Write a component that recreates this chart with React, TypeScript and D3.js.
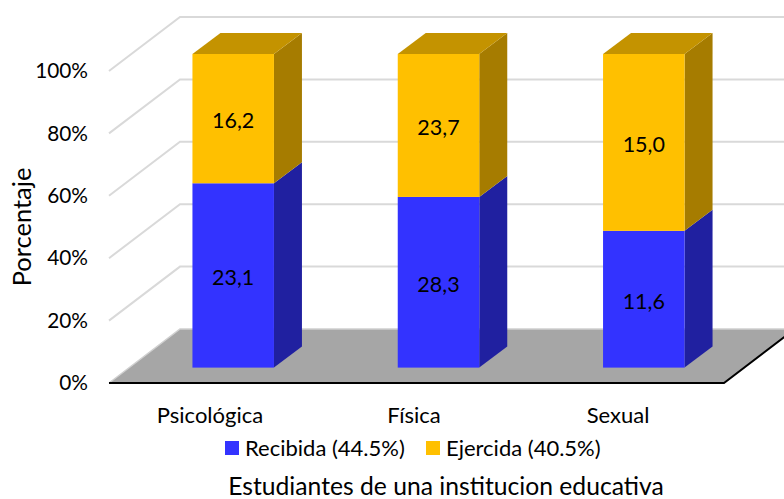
import React from "react";
import * as d3 from "d3";

const categories = ["Psicológica", "Física", "Sexual"];
const recibida = [23.1, 28.3, 11.6];
const ejercida = [16.2, 23.7, 15.0];
const yTicks = [0, 20, 40, 60, 80, 100];
const seriesNames = ["Recibida (44.5%)", "Ejercida (40.5%)"];
const xTitle = "Estudiantes de una institucion educativa";
const yTitle = "Porcentaje";

const W = 784, H = 499;
const FONT = "Lato, 'Noto Sans', sans-serif";
const BLUE = { front: "#3333ff", side: "#2020a0", top: "#2828c8" };
const GOLD = { front: "#ffc000", side: "#a67c00", top: "#c49300" };
const GRID = "#d9d9d9";

// wall/floor projection
const wallY = d3.scaleLinear().domain([0, 100]).range([383, 71]);
const wallDx = 71, wallDy = -54;
const frontLeft = 109, frontRight = 724;
const barY = d3.scaleLinear().domain([0, 100]).range([367.6, 54]);
const barDx = 28, barDy = -21;
const barW = 81.5;
const barCenters = d3.scalePoint().domain(categories).range([233.2, 643.8]);
const labelCenters = d3.scalePoint().domain(categories).range([210, 618]);

function Block({ x, y0, y1, c, showTop }: { x: number; y0: number; y1: number; c: typeof BLUE; showTop: boolean }) {
  const p = (pts: number[][]) => pts.map((q) => q.join(",")).join(" ");
  return (
    <g>
      <polygon points={p([[x + barW, y1], [x + barW + barDx, y1 + barDy], [x + barW + barDx, y0 + barDy], [x + barW, y0]])} fill={c.side} />
      {showTop && <polygon points={p([[x, y1], [x + barDx, y1 + barDy], [x + barW + barDx, y1 + barDy], [x + barW, y1]])} fill={c.top} />}
      <rect x={x} y={y1} width={barW} height={y0 - y1} fill={c.front} />
    </g>
  );
}

export default function App() {
  const bx = (cat: string) => barCenters(cat)! - barW / 2;
  return (
    <svg width={W} height={H} viewBox={`0 0 ${W} ${H}`} style={{ position: "absolute", left: 0, top: 0, background: "#fff" }} fontFamily={FONT} fill="#000">
      {/* floor */}
      <polygon
        points={[[frontLeft, wallY(0)], [frontLeft + wallDx, wallY(0) + wallDy], [W + 20, wallY(0) + wallDy], [frontRight + wallDx, wallY(0) + wallDy], [frontRight, wallY(0)]].map((q) => q.join(",")).join(" ")}
        fill="#a6a6a6"
      />
      {/* grid */}
      {yTicks.slice(1).map((t) => (
        <path key={t} d={`M${frontLeft},${wallY(t)} L${frontLeft + wallDx},${wallY(t) + wallDy} L${W},${wallY(t) + wallDy}`} fill="none" stroke={GRID} strokeWidth={2} />
      ))}
      <path d={`M${frontLeft},${wallY(0)} L${frontLeft + wallDx},${wallY(0) + wallDy} L${W},${wallY(0) + wallDy}`} fill="none" stroke="#d0d0d0" strokeWidth={1.5} />
      <path d={`M${frontLeft},${wallY(0)} L${frontRight},${wallY(0)} L${frontRight + wallDx},${wallY(0) + wallDy}`} fill="none" stroke="#000" strokeWidth={2} />
      {/* bars */}
      {categories.map((cat, i) => {
        const total = recibida[i] + ejercida[i];
        const split = (recibida[i] / total) * 100;
        const x = bx(cat);
        return (
          <g key={cat}>
            <Block x={x} y0={barY(0)} y1={barY(split)} c={BLUE} showTop={false} />
            <Block x={x} y0={barY(split)} y1={barY(100)} c={GOLD} showTop={true} />
            <text x={x + barW / 2} y={(barY(0) + barY(split)) / 2 + 2} dy="0.35em" textAnchor="middle" fontSize={21.5}>{recibida[i].toFixed(1).replace(".", ",")}</text>
            <text x={x + barW / 2} y={(barY(split) + barY(100)) / 2 + 2} dy="0.35em" textAnchor="middle" fontSize={21.5}>{ejercida[i].toFixed(1).replace(".", ",")}</text>
            <text x={labelCenters(cat)} y={415} dy="0.35em" textAnchor="middle" fontSize={22}>{cat}</text>
          </g>
        );
      })}
      {/* y axis labels */}
      {yTicks.map((t) => (
        <text key={t} x={88} y={wallY(t)} dy="0.35em" textAnchor="end" fontSize={20.8}>{t}%</text>
      ))}
      <text transform="translate(22,227) rotate(-90)" dy="0.35em" textAnchor="middle" fontSize={25.5}>{yTitle}</text>
      {/* legend */}
      <rect x={225} y={441} width={14} height={14} fill={BLUE.front} />
      <text x={245} y={448} dy="0.35em" fontSize={22}>{seriesNames[0]}</text>
      <rect x={426} y={441} width={14} height={14} fill={GOLD.front} />
      <text x={446} y={448} dy="0.35em" fontSize={22}>{seriesNames[1]}</text>
      <text x={446} y={486} dy="0.35em" textAnchor="middle" fontSize={24.7}>{xTitle}</text>
    </svg>
  );
}
